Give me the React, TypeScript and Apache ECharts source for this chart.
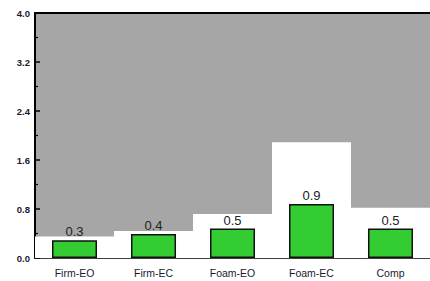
import React, { useEffect, useRef } from "react";
import * as echarts from "echarts";

const categories = ["Firm-EO", "Firm-EC", "Foam-EO", "Foam-EC", "Comp"];
const barValues = [0.29, 0.39, 0.48, 0.88, 0.48];
const stepLevels = [0.35, 0.44, 0.72, 1.89, 0.82];
const yTicks = [0, 0.8, 1.6, 2.4, 3.2, 4.0];

export default function App() {
  const ref = useRef<HTMLDivElement>(null);
  useEffect(() => {
    if (!ref.current) return;
    const chart = echarts.init(ref.current, null, { renderer: "svg" });
    chart.setOption({
      animation: false,
      grid: {
        left: 35,
        right: 0,
        top: 13,
        bottom: 23,
        show: true,
        backgroundColor: "#a6a6a6",
        borderWidth: 0,
      },
      xAxis: [
        {
          type: "category",
          data: categories,
          position: "bottom",
          axisLine: { lineStyle: { color: "#000", width: 1.5 } },
          axisTick: { alignWithLabel: true, length: 6, lineStyle: { color: "#000", width: 1 } },
          axisLabel: {
            margin: 9,
            color: "#1a1a2e",
            fontFamily: "Liberation Sans, Arial, sans-serif",
            fontSize: 10.5,
          },
        },
        {
          type: "category",
          data: categories,
          position: "top",
          axisLine: { lineStyle: { color: "#000", width: 2 } },
          axisTick: { show: false },
          axisLabel: { show: false },
        },
      ],
      yAxis: {
        type: "value",
        min: 0,
        max: yTicks[yTicks.length - 1],
        interval: 0.8,
        splitLine: { show: false },
        axisLine: { show: true, lineStyle: { color: "#000", width: 2 } },
        axisTick: { show: true, inside: true, length: 5, lineStyle: { color: "#000", width: 1.5 } },
        minorTick: { show: true, splitNumber: 2, length: 3, lineStyle: { color: "#000", width: 1.2 } },
        axisLabel: {
          margin: 5,
          color: "#1a1a2e",
          fontWeight: "bold",
          fontFamily: "Liberation Sans, Arial, sans-serif",
          fontSize: 9.5,
          formatter: (v: number) => v.toFixed(1),
        },
      },
      series: [
        {
          type: "bar",
          xAxisIndex: 1,
          data: stepLevels,
          barWidth: "100%",
          itemStyle: { color: "#ffffff" },
          silent: true,
          z: 1,
        },
        {
          type: "bar",
          xAxisIndex: 0,
          data: barValues,
          barWidth: "57%",
          itemStyle: { color: "#33cc33", borderColor: "#111", borderWidth: 1.5 },
          label: {
            show: true,
            position: "top",
            distance: 2,
            color: "#222",
            fontFamily: "Liberation Sans, Arial, sans-serif",
            fontSize: 13,
            formatter: (p: any) => Number(p.value).toFixed(1),
          },
          z: 3,
        },
      ],
    });
    return () => chart.dispose();
  }, []);
  return (
    <div
      ref={ref}
      style={{ position: "absolute", left: 0, top: 0, width: 430, height: 281, background: "#fff" }}
    />
  );
}
